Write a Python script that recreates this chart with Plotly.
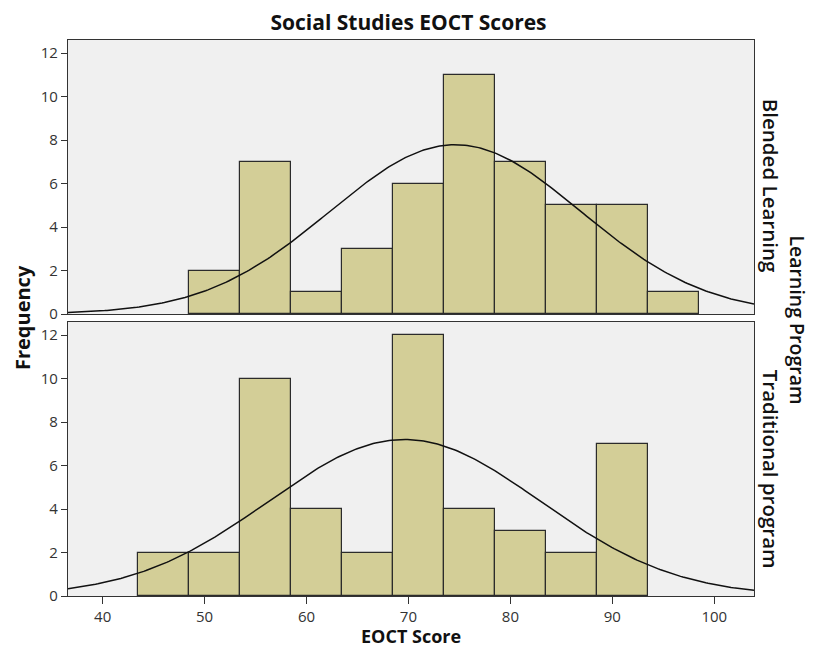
import numpy as np
import plotly.graph_objects as go
from plotly.subplots import make_subplots

bin_centers = [46, 51, 56, 61, 66, 71, 76, 81, 86, 91, 96]
blended_counts = [None, 2, 7, 1, 3, 6, 11, 7, 5, 5, 1]
traditional_counts = [2, 2, 10, 4, 2, 12, 4, 3, 2, 7, None]
bin_width = 5

# normal curve parameters
blended_mean, blended_sd = 74.6, 12.3
traditional_mean, traditional_sd = 69.6, 13.3

x_ticks = [40, 50, 60, 70, 80, 90, 100]
y_ticks = [0, 2, 4, 6, 8, 10, 12]

fig = make_subplots(rows=2, cols=1, shared_xaxes=True, vertical_spacing=0.0144)

bar_color = "#d3ce97"
edge = "#2b2b2b"

xs = np.linspace(36.6, 103.9, 300)

def normal_curve(mean, sd, n):
    return n * bin_width / (sd * np.sqrt(2 * np.pi)) * np.exp(-0.5 * ((xs - mean) / sd) ** 2)

for row, counts, mean, sd in [(1, blended_counts, blended_mean, blended_sd),
                              (2, traditional_counts, traditional_mean, traditional_sd)]:
    n = sum(c for c in counts if c)
    fig.add_trace(go.Bar(x=bin_centers, y=counts, width=bin_width,
                         marker=dict(color=bar_color, line=dict(color=edge, width=1.2)),
                         showlegend=False), row=row, col=1)
    fig.add_trace(go.Scatter(x=xs, y=normal_curve(mean, sd, n), mode="lines",
                             line=dict(color="#111111", width=1.5), showlegend=False),
                  row=row, col=1)

axis_font = dict(family="Open Sans", size=15, color="#333333")
for row in [1, 2]:
    fig.update_yaxes(range=[0, 12.6], tickvals=y_ticks, ticks="outside", ticklen=6,
                     tickcolor="#333333", showline=True, mirror=True, linecolor="#333333",
                     linewidth=1.2, showgrid=False, zeroline=False, tickfont=axis_font,
                     row=row, col=1)
    fig.update_xaxes(range=[36.6, 103.9], tickvals=x_ticks, showline=True, mirror=True,
                     linecolor="#333333", linewidth=1.2, showgrid=False, zeroline=False,
                     tickfont=axis_font, row=row, col=1)
fig.update_xaxes(ticks="outside", ticklen=7, tickcolor="#333333", row=2, col=1)
fig.update_xaxes(ticks="", row=1, col=1)

fig.update_layout(
    width=801, height=640,
    margin=dict(l=60, r=55, t=32, b=52),
    paper_bgcolor="white", plot_bgcolor="#f0f0f0",
    bargap=0,
    title=dict(text="<b>Social Studies EOCT Scores</b>", x=0.5, xanchor="center",
               y=1 - 15 / 640, yanchor="middle",
               font=dict(family="Open Sans", size=21, color="#111111")),
    font=dict(family="Open Sans"),
)

ann_font = dict(family="Open Sans", size=20, color="#111111")
strip_font = dict(family="Open Sans", size=20.5, color="#111111", weight=600)
fig.add_annotation(text="<b>EOCT Score</b>", xref="paper", yref="paper", x=0.5, y=-0.072,
                   showarrow=False, xanchor="center", yanchor="middle",
                   font=dict(family="Open Sans", size=18, color="#111111"))
fig.add_annotation(text="<b>Frequency</b>", xref="paper", yref="paper", x=-0.067, y=0.5,
                   showarrow=False, textangle=-90, xanchor="center", yanchor="middle",
                   font=ann_font)
fig.add_annotation(text="Blended Learning", xref="paper", yref="paper", x=1.024,
                   y=0.737, showarrow=False, textangle=90, xanchor="center",
                   yanchor="middle", font=strip_font)
fig.add_annotation(text="Traditional program", xref="paper", yref="paper", x=1.024,
                   y=0.228, showarrow=False, textangle=90, xanchor="center",
                   yanchor="middle", font=strip_font)
fig.add_annotation(text="Learning Program", xref="paper", yref="paper", x=1.063,
                   y=0.497, showarrow=False, textangle=90, xanchor="center",
                   yanchor="middle",
                   font=dict(family="Open Sans", size=19.5, color="#111111", weight=600))

fig.write_html("out.html")
